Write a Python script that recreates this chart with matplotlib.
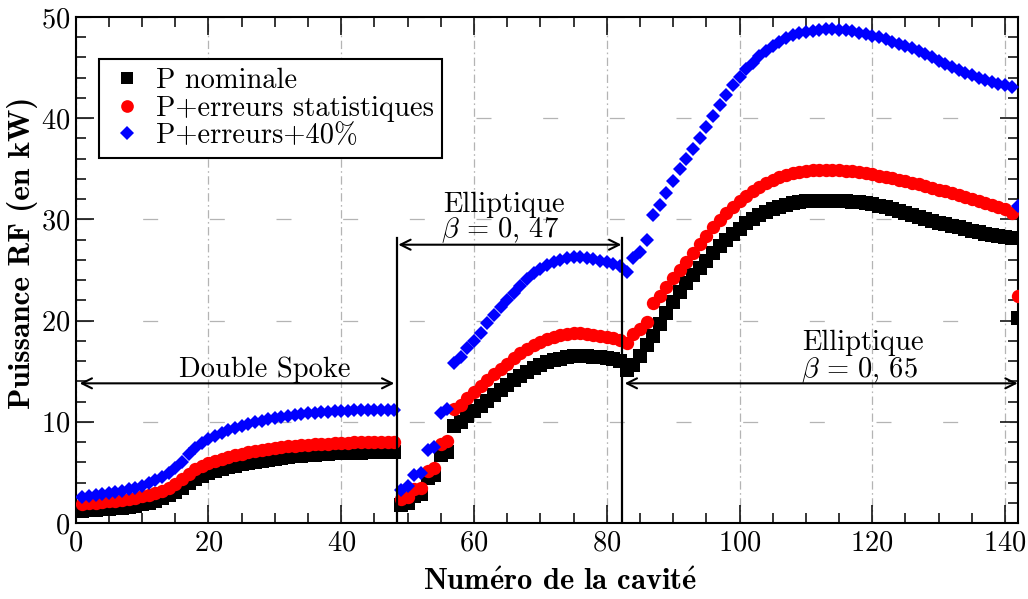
import matplotlib
matplotlib.use("Agg")
import matplotlib.pyplot as plt
from matplotlib.ticker import MultipleLocator

plt.rcParams['font.family'] = ['cmr10', 'DejaVu Serif']
plt.rcParams['mathtext.fontset'] = 'cm'
plt.rcParams['axes.formatter.use_mathtext'] = True
plt.rcParams['lines.scale_dashes'] = False

# ---- data -------------------------------------------------------------
cavite = list(range(1, 143))

p_nominale = [
    # Double Spoke 1..48
    1.2, 1.25, 1.3, 1.35, 1.4, 1.45, 1.5, 1.6, 1.7, 1.85,
    2.0, 2.2, 2.45, 2.75, 3.1, 3.5, 3.95, 4.35, 4.65, 4.9,
    5.15, 5.35, 5.5, 5.65, 5.8, 5.95, 6.05, 6.15, 6.25, 6.35,
    6.45, 6.55, 6.6, 6.65, 6.7, 6.75, 6.8, 6.85, 6.88, 6.9,
    6.92, 6.95, 6.95, 6.97, 6.97, 7.0, 7.0, 7.0,
    # Elliptique 0.47 49..82
    1.8, 2.0, 2.7, 2.9, 4.4, 4.7, 6.7, 7.0, 9.6, 10.0,
    10.6, 11.1, 11.6, 12.1, 12.6, 13.1, 13.6, 14.1, 14.5, 14.9,
    15.3, 15.6, 15.9, 16.1, 16.25, 16.4, 16.5, 16.5, 16.5, 16.45,
    16.4, 16.3, 16.2, 16.0,
    # Elliptique 0.65 83..142
    15.1, 15.6, 16.5, 17.6, 18.5, 19.7, 20.8, 21.8, 22.8, 23.7,
    24.5, 25.2, 25.9, 26.7, 27.4, 28.0, 28.6, 29.1, 29.6, 30.0,
    30.4, 30.7, 31.0, 31.25, 31.45, 31.6, 31.7, 31.8, 31.8, 31.85,
    31.85, 31.85, 31.8, 31.8, 31.75, 31.7, 31.6, 31.5, 31.35, 31.2,
    31.0, 30.8, 30.6, 30.4, 30.2, 30.0, 29.8, 29.65, 29.5, 29.35,
    29.2, 29.05, 28.9, 28.75, 28.6, 28.5, 28.4, 28.3, 28.2, 20.3,
]

p_erreurs = [
    1.85, 1.93, 2.0, 2.07, 2.14, 2.2, 2.3, 2.4, 2.5, 2.65,
    2.8, 3.0, 3.2, 3.5, 3.85, 4.3, 4.85, 5.3, 5.65, 5.9,
    6.15, 6.35, 6.55, 6.7, 6.85, 7.0, 7.1, 7.2, 7.3, 7.4,
    7.5, 7.57, 7.64, 7.7, 7.75, 7.8, 7.82, 7.85, 7.9, 7.93,
    7.93, 7.96, 7.96, 8.0, 8.0, 8.0, 8.0, 8.0,
    2.4, 2.6, 3.4, 3.5, 5.1, 5.4, 7.8, 8.1, 11.3, 11.7,
    12.4, 12.9, 13.5, 14.1, 14.7, 15.2, 15.7, 16.3, 16.8, 17.2,
    17.6, 17.9, 18.2, 18.4, 18.55, 18.7, 18.75, 18.75, 18.7, 18.6,
    18.5, 18.4, 18.3, 18.1,
    17.8, 18.7, 19.2, 19.9, 21.7, 22.4, 23.3, 24.2, 25.0, 25.8,
    26.7, 27.6, 28.4, 29.2, 29.9, 30.6, 31.2, 31.8, 32.3, 32.8,
    33.2, 33.6, 33.9, 34.2, 34.4, 34.6, 34.7, 34.8, 34.85, 34.9,
    34.9, 34.9, 34.85, 34.8, 34.75, 34.65, 34.55, 34.45, 34.3, 34.2,
    34.05, 33.9, 33.75, 33.6, 33.45, 33.3, 33.1, 32.95, 32.8, 32.6,
    32.4, 32.2, 32.0, 31.8, 31.6, 31.4, 31.2, 31.0, 30.6, 22.4,
]

p_erreurs_40 = [
    2.6, 2.7, 2.8, 2.9, 3.0, 3.1, 3.2, 3.35, 3.5, 3.7,
    3.95, 4.2, 4.5, 4.9, 5.4, 6.0, 6.8, 7.4, 7.9, 8.3,
    8.6, 8.9, 9.15, 9.4, 9.6, 9.8, 9.95, 10.1, 10.25, 10.4,
    10.5, 10.6, 10.7, 10.8, 10.85, 10.9, 10.95, 11.0, 11.05, 11.1,
    11.1, 11.15, 11.15, 11.2, 11.2, 11.2, 11.2, 11.2,
    3.3, 3.7, 4.7, 4.9, 7.2, 7.5, 10.9, 11.3, 15.8, 16.4,
    17.3, 18.0, 18.8, 19.8, 20.6, 21.3, 22.0, 22.7, 23.4, 24.1,
    24.7, 25.1, 25.5, 25.8, 26.0, 26.2, 26.3, 26.3, 26.2, 26.1,
    25.9, 25.8, 25.6, 25.4,
    24.8, 26.2, 26.8, 28.0, 30.4, 31.4, 32.6, 33.8, 35.0, 36.0,
    37.0, 38.0, 39.1, 40.2, 41.3, 42.3, 43.3, 44.1, 44.9, 45.5,
    46.1, 46.6, 47.1, 47.5, 47.9, 48.2, 48.4, 48.55, 48.65, 48.75,
    48.8, 48.8, 48.75, 48.7, 48.6, 48.45, 48.3, 48.15, 48.0, 47.8,
    47.5, 47.3, 47.1, 46.9, 46.6, 46.3, 46.0, 45.7, 45.4, 45.1,
    44.8, 44.5, 44.3, 44.0, 43.8, 43.6, 43.4, 43.25, 43.1, 31.3,
]

labels = ["P nominale", "P+erreurs statistiques", "P+erreurs+40%"]

# section boundaries / annotations
sec_limits = [48.4, 82.3]
sec_top = 28.2

FS = 20.5

# ---- figure -----------------------------------------------------------
fig = plt.figure(figsize=(10.28, 5.99), dpi=100)
ax = fig.add_axes([0.0736, 0.1269, 0.9170, 0.8447])

ax.plot(cavite, p_nominale, linestyle='none', marker='s', ms=9.8,
        color='black', mew=0, label=labels[0], zorder=3)
ax.plot(cavite, p_erreurs, linestyle='none', marker='o', ms=9.6,
        color='#ff0000', mew=0, label=labels[1], zorder=4)
ax.plot(cavite, p_erreurs_40, linestyle='none', marker='D', ms=7.3,
        color='#0000ff', mew=0, label=labels[2], zorder=5)

ax.set_xlim(0, 142)
ax.set_ylim(0, 50)

ax.xaxis.set_major_locator(MultipleLocator(20))
ax.xaxis.set_minor_locator(MultipleLocator(5))
ax.yaxis.set_major_locator(MultipleLocator(10))
ax.yaxis.set_minor_locator(MultipleLocator(2))
ax.tick_params(which='both', direction='in', top=True, right=True,
               labelsize=FS, width=1.1)
ax.tick_params(axis='x', pad=5)
ax.tick_params(axis='y', pad=4)
ax.tick_params(which='major', length=13)
ax.tick_params(which='minor', length=7)
for s in ax.spines.values():
    s.set_linewidth(1.5)

ax.xaxis.grid(True, which='major', color='#b4b4b4', lw=0.9,
              linestyle=(0, (6, 2.5, 1.2, 2.5)), zorder=0)
ax.yaxis.grid(True, which='major', color='#b4b4b4', lw=0.9,
              linestyle=(0, (10.8, 37.2)), zorder=0)

ax.set_xlabel(r'Num$\mathbf{\acute{e}}$ro de la cavit$\mathbf{\acute{e}}$',
              family='cmb10', fontsize=22)
ax.set_ylabel('Puissance RF (en kW)', family='cmb10', fontsize=22.5)
ax.xaxis.set_label_coords(0.514, -0.089)
ax.yaxis.set_label_coords(-0.040, 0.534)

# section lines and arrows
for xv in sec_limits:
    ax.plot([xv, xv], [0, sec_top], color='black', lw=1.6, zorder=6)

arrow_kw = dict(arrowstyle='<->', lw=1.5, color='black', shrinkA=0, shrinkB=0,
                mutation_scale=18)
ax.annotate('', xy=(0.6, 13.8), xytext=(48.0, 13.8), arrowprops=arrow_kw, zorder=7)
ax.annotate('', xy=(48.6, 27.5), xytext=(82.2, 27.5), arrowprops=arrow_kw, zorder=7)
ax.annotate('', xy=(82.7, 13.8), xytext=(141.9, 13.8), arrowprops=arrow_kw, zorder=7)

ax.text(28.5, 14.45, 'Double Spoke', ha='center', va='baseline', fontsize=FS)
ax.text(55.3, 30.75, 'Elliptique', ha='left', va='baseline', fontsize=FS)
ax.text(55.1, 28.2, r'$\beta\,=\,0,\,47$', ha='left', va='baseline', fontsize=FS)
ax.text(109.4, 17.05, 'Elliptique', ha='left', va='baseline', fontsize=FS)
ax.text(109.3, 14.45, r'$\beta\,=\,0,\,65$', ha='left', va='baseline', fontsize=FS)

leg = ax.legend(loc='upper left', bbox_to_anchor=(0.0247, 0.917), borderaxespad=0,
                fontsize=FS, frameon=True, fancybox=False, edgecolor='black',
                framealpha=1, handlelength=1.4, handletextpad=0.3,
                labelspacing=0.05, borderpad=0.3, markerscale=0.95)
leg.get_frame().set_linewidth(1.5)

fig.savefig('out.png', dpi=100)
